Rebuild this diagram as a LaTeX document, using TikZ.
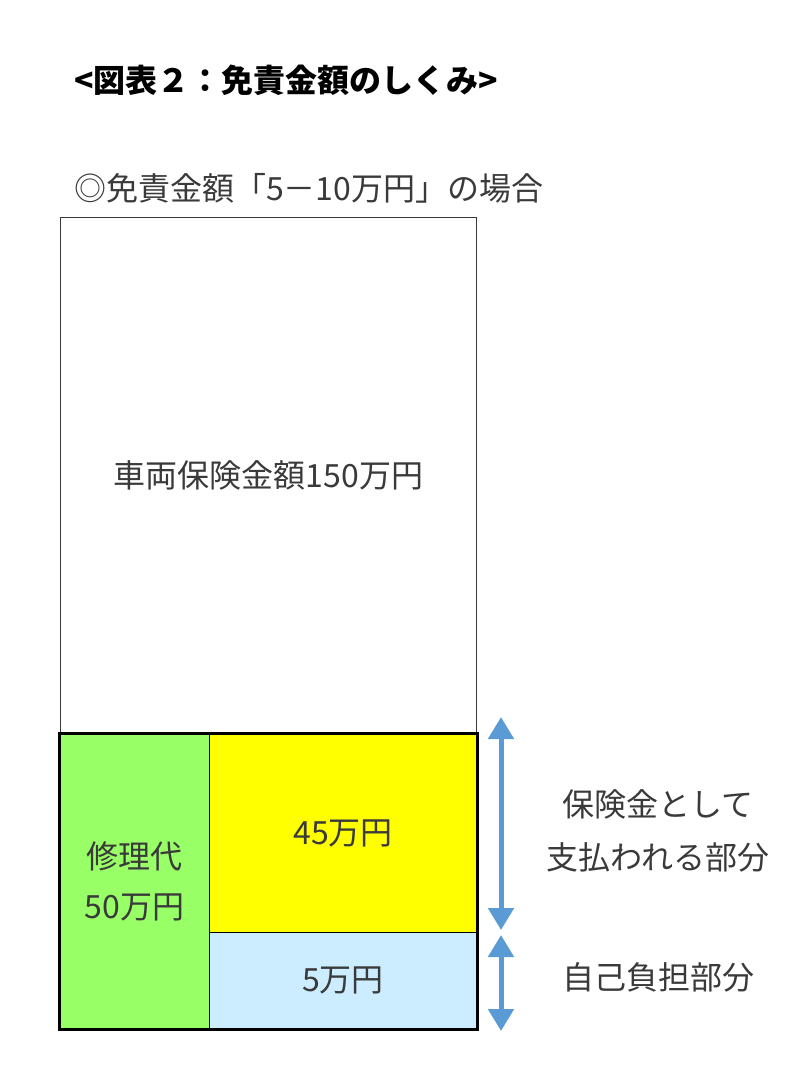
\documentclass[tikz,border=0pt]{standalone}
\usepackage{fontspec}
\setmainfont{Noto Sans CJK JP}
\usetikzlibrary{arrows.meta}
\definecolor{vertrep}{HTML}{99FF66}
\definecolor{jaune}{HTML}{FFFF00}
\definecolor{bleuclair}{HTML}{CCECFF}
\definecolor{bleufleche}{HTML}{5B9BD5}
\definecolor{gristexte}{HTML}{3A3A3A}
\begin{document}
\begin{tikzpicture}[x=1pt,y=-1pt]
\tikzset{boite/.style={draw, line width=1.2pt, inner sep=0pt, anchor=north west, align=center, text=gristexte, font=\fontsize{32}{50}\selectfont},
  etiquette/.style={inner sep=0pt, align=center, text=gristexte, font=\fontsize{32}{53}\selectfont},
  fleche/.style={draw=bleufleche, line width=5pt, {Triangle[width=25pt,length=22pt]}-{Triangle[width=25pt,length=22pt]}}}
\useasboundingbox (0,0) rectangle (800,1067);
\node[anchor=west, inner sep=0pt, font=\bfseries\fontsize{32}{38}\selectfont] (titre) at (74,80) {<図表２：免責金額のしくみ>};
\node[anchor=west, inner sep=0pt, text=gristexte, font=\fontsize{32}{38}\selectfont] (soustitre) at (74,188) {◎免責金額「5－10万円」の場合};
\node[boite, draw=gristexte, minimum width=416pt, minimum height=516pt] (vehicule) at (60,217) {車両保険金額150万円};
\node[boite, fill=vertrep, minimum width=150pt, minimum height=295pt] (reparation) at (59,733) {修理代\\50万円};
\node[boite, fill=jaune, minimum width=267pt, minimum height=199pt] (assurance) at (209,733) {45万円};
\node[boite, fill=bleuclair, minimum width=267pt, minimum height=96pt] (franchise) at (209,932) {5万円};
\draw[line width=3pt] (reparation.north west) rectangle (franchise.south east);
\coordinate (hautA) at (501,717);
\coordinate (basA) at (501,930);
\coordinate (hautB) at (501,935);
\coordinate (basB) at (501,1031);
\draw[fleche] (hautA) -- (basA);
\draw[fleche] (hautB) -- (basB);
\node[etiquette] (paye) at (658,831) {保険金として\\支払われる部分};
\node[etiquette] (charge) at (658,977) {自己負担部分};
\end{tikzpicture}
\end{document}
